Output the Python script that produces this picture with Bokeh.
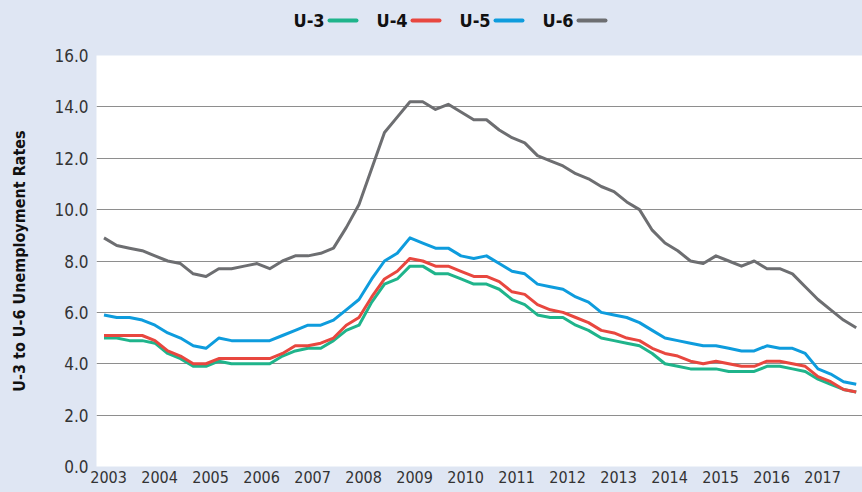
from bokeh.plotting import figure
from bokeh.layouts import column
from bokeh.models import (Range1d, FixedTicker, CustomJSTickFormatter,
                          NumeralTickFormatter, ColumnDataSource)
from bokeh.core.properties import value
from bokeh.embed import file_html
from bokeh.resources import INLINE

# ---------------- data (quarterly, 2003Q1 .. 2017Q4) ----------------
years = list(range(2003, 2018))
quarters = [1, 2, 3, 4]

u3 = [5.0, 5.0, 4.9, 4.9, 4.8, 4.4, 4.2, 3.9, 3.9, 4.1, 4.0, 4.0, 4.0, 4.0, 4.3, 4.5,
      4.6, 4.6, 4.9, 5.3, 5.5, 6.4, 7.1, 7.3, 7.8, 7.8, 7.5, 7.5, 7.3, 7.1, 7.1,
      6.9, 6.5, 6.3, 5.9, 5.8, 5.8, 5.5, 5.3, 5.0, 4.9, 4.8, 4.7, 4.4, 4.0, 3.9,
      3.8, 3.8, 3.8, 3.7, 3.7, 3.7, 3.9, 3.9, 3.8, 3.7, 3.4, 3.2, 3.0, 2.9]
u4 = [5.1, 5.1, 5.1, 5.1, 4.9, 4.5, 4.3, 4.0, 4.0, 4.2, 4.2, 4.2, 4.2, 4.2, 4.4, 4.7,
      4.7, 4.8, 5.0, 5.5, 5.8, 6.6, 7.3, 7.6, 8.1, 8.0, 7.8, 7.8, 7.6, 7.4, 7.4,
      7.2, 6.8, 6.7, 6.3, 6.1, 6.0, 5.8, 5.6, 5.3, 5.2, 5.0, 4.9, 4.6, 4.4, 4.3,
      4.1, 4.0, 4.1, 4.0, 3.9, 3.9, 4.1, 4.1, 4.0, 3.9, 3.5, 3.3, 3.0, 2.9]
u5 = [5.9, 5.8, 5.8, 5.7, 5.5, 5.2, 5.0, 4.7, 4.6, 5.0, 4.9, 4.9, 4.9, 4.9, 5.1, 5.3,
      5.5, 5.5, 5.7, 6.1, 6.5, 7.3, 8.0, 8.3, 8.9, 8.7, 8.5, 8.5, 8.2, 8.1, 8.2,
      7.9, 7.6, 7.5, 7.1, 7.0, 6.9, 6.6, 6.4, 6.0, 5.9, 5.8, 5.6, 5.3, 5.0, 4.9,
      4.8, 4.7, 4.7, 4.6, 4.5, 4.5, 4.7, 4.6, 4.6, 4.4, 3.8, 3.6, 3.3, 3.2]
u6 = [8.9, 8.6, 8.5, 8.4, 8.2, 8.0, 7.9, 7.5, 7.4, 7.7, 7.7, 7.8, 7.9, 7.7, 8.0, 8.2,
      8.2, 8.3, 8.5, 9.3, 10.2, 11.6, 13.0, 13.6, 14.2, 14.2, 13.9, 14.1, 13.8, 13.5, 13.5,
      13.1, 12.8, 12.6, 12.1, 11.9, 11.7, 11.4, 11.2, 10.9, 10.7, 10.3, 10.0, 9.2, 8.7, 8.4,
      8.0, 7.9, 8.2, 8.0, 7.8, 8.0, 7.7, 7.7, 7.5, 7.0, 6.5, 6.1, 5.7, 5.4]

series_names = ["U-3", "U-4", "U-5", "U-6"]
y_ticks = [0, 2, 4, 6, 8, 10, 12, 14, 16]
y_title = "U-3 to U-6 Unemployment Rates"

# ---------------- style ----------------
BG = "#DFE6F3"
COLORS = ["#1FB48B", "#E8473F", "#0E9CDD", "#6D6E71"]
FONT = "'DejaVu Sans Condensed', 'Liberation Sans Narrow', sans-serif"
W = 862
LEG_H = 40
MAIN_H = 452
LEFT = 96

x = [y + (q - 1) / 4 for y in years for q in quarters]
src = ColumnDataSource(dict(x=x, u3=u3, u4=u4, u5=u5, u6=u6))

# ---------------- legend strip (frame aligned with the chart frame; x in pixels) ----
leg = figure(width=W, height=LEG_H, x_range=Range1d(LEFT, W), y_range=Range1d(0, LEG_H),
             toolbar_location=None, output_backend="svg",
             x_axis_location=None, y_axis_location=None,
             min_border=0, min_border_left=LEFT, min_border_right=0,
             background_fill_color=BG, border_fill_color=BG,
             outline_line_color=None)
leg.grid.visible = False
start, step = 293, 83
tx = [start + k * step for k in range(4)]
lsrc = ColumnDataSource(dict(tx=tx, x0=[t + 36 for t in tx], x1=[t + 63 for t in tx],
                             y=[LEG_H - 20] * 4, name=series_names, color=COLORS))
leg.text(x="tx", y="y", text="name", source=lsrc, text_font=value(FONT),
         text_font_style="bold", text_font_size="18px", text_color="#111111",
         text_baseline="middle", text_align="left")
leg.segment(x0="x0", y0="y", x1="x1", y1="y", source=lsrc, line_color="color",
            line_width=4, line_cap="round")

# ---------------- main chart ----------------
p = figure(width=W, height=MAIN_H, x_range=Range1d(2002.853, 2017.873),
           y_range=Range1d(0, 16), toolbar_location=None, output_backend="svg",
           background_fill_color="white", border_fill_color=BG,
           outline_line_color=None, min_border_left=LEFT, min_border_right=0,
           min_border_top=15, min_border_bottom=26)

for col, c in zip(["u3", "u4", "u5", "u6"], COLORS):
    p.line("x", col, source=src, line_color=c, line_width=3, line_join="round")

p.xgrid.visible = False
p.ygrid.grid_line_color = "#8E8E8E"
p.ygrid.grid_line_width = 1.2

p.yaxis.ticker = FixedTicker(ticks=y_ticks)
p.yaxis.formatter = NumeralTickFormatter(format="0.0")
p.yaxis.axis_line_color = None
p.yaxis.major_tick_line_color = None
p.yaxis.minor_tick_line_color = None
p.yaxis.major_tick_out = 0
p.yaxis.major_label_standoff = 8
p.yaxis.major_label_text_font = FONT
p.yaxis.major_label_text_font_size = "17px"
p.yaxis.major_label_text_color = "#333333"
p.yaxis.axis_label = y_title
p.yaxis.axis_label_text_font = FONT
p.yaxis.axis_label_text_font_style = "bold"
p.yaxis.axis_label_text_font_size = "16px"
p.yaxis.axis_label_text_color = "#111111"
p.yaxis.axis_label_standoff = 22

p.xaxis.ticker = FixedTicker(ticks=[y + 0.09 for y in years])
p.xaxis.formatter = CustomJSTickFormatter(code="return String(Math.floor(tick));")
p.xaxis.axis_line_color = None
p.xaxis.major_tick_line_color = None
p.xaxis.minor_tick_line_color = None
p.xaxis.major_tick_out = 0
p.xaxis.major_label_standoff = 4
p.xaxis.major_label_text_font = FONT
p.xaxis.major_label_text_font_size = "16px"
p.xaxis.major_label_text_color = "#333333"

layout = column(leg, p, spacing=0)

html = file_html(layout, INLINE)
html = html.replace("</head>", "<style>html,body{background-color:#DFE6F3;}</style></head>", 1)
open("out.html", "w").write(html)
